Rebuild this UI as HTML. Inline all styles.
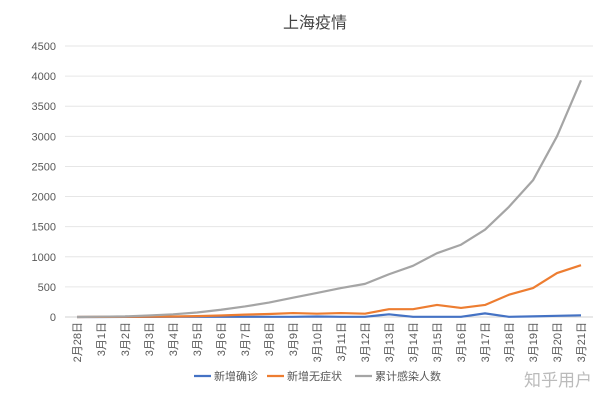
<!DOCTYPE html>
<html><head><meta charset="utf-8"><style>
body{margin:0;background:#fff;}
svg text{font-family:"Liberation Sans","Noto Sans CJK SC",sans-serif;}
</style></head><body>
<svg width="600" height="401" id="c">
<text x="315" y="28" text-anchor="middle" font-size="16" fill="#444">上海疫情</text>
<text x="592" y="386" text-anchor="end" font-size="17" fill="#bbb">知乎用户</text>
</svg>
<script>
const categories=["2月28日","3月1日","3月2日","3月3日","3月4日","3月5日","3月6日","3月7日","3月8日","3月9日","3月10日","3月11日","3月12日","3月13日","3月14日","3月15日","3月16日","3月17日","3月18日","3月19日","3月20日","3月21日"];
const confirmed=[0,0,1,2,3,3,3,3,3,3,8,3,3,45,3,3,3,60,3,10,20,28];
const asymptomatic=[0,2,3,5,8,15,25,40,50,65,55,65,55,130,130,200,150,200,370,480,730,860];
const cumulative=[0,5,10,25,45,75,120,175,240,320,400,480,550,710,850,1060,1200,1450,1830,2270,3000,3930];
const yTicks=[0,500,1000,1500,2000,2500,3000,3500,4000,4500];
const seriesNames=["新增确诊","新增无症状","累计感染人数"];
const svg=document.getElementById('c');
const NS='http://www.w3.org/2000/svg';
const y0=317,y1=46,yMax=4500,xL=65,xR=593;
const step=(xR-xL)/categories.length;
const X=i=>xL+step*(i+0.5);
const Y=v=>y0-(v/yMax)*(y0-y1);
function mk(t,a){const e=document.createElementNS(NS,t);for(const k in a)e.setAttribute(k,a[k]);svg.appendChild(e);return e;}
yTicks.forEach(v=>{
 const l=mk('line',{x1:xL,x2:xR,y1:Y(v),y2:Y(v),stroke:v===0?'#d0d0d0':'#e6e6e6','stroke-width':1});
 
 
 const t=mk('text',{x:56,y:Y(v)+4,'text-anchor':'end','font-size':11,fill:'#595959'});
 t.textContent=v;
 
 
});
categories.forEach((c,i)=>{
 const t=mk('text',{transform:`translate(${X(i)+4},322) rotate(-90)`,'text-anchor':'end','font-size':11,fill:'#595959'});
 t.textContent=c;
 
 
});
const colors=['#4472c4','#ed7d31','#a5a5a5'];
[confirmed,asymptomatic,cumulative].forEach((s,k)=>{
 const p=mk('polyline',{points:s.map((v,i)=>X(i)+','+Y(v)).join(' '),fill:'none',stroke:colors[k],'stroke-width':2.2,'stroke-linejoin':'round'});
 
 
});
const lx=[194,267,355];
seriesNames.forEach((n,k)=>{
 const l=mk('line',{x1:lx[k],x2:lx[k]+17,y1:376,y2:376,stroke:colors[k],'stroke-width':2.2});
 
 
 const t=mk('text',{x:lx[k]+20,y:380,'font-size':11,fill:'#595959'});
 t.textContent=n;
 
 
});
</script>
</body></html>
